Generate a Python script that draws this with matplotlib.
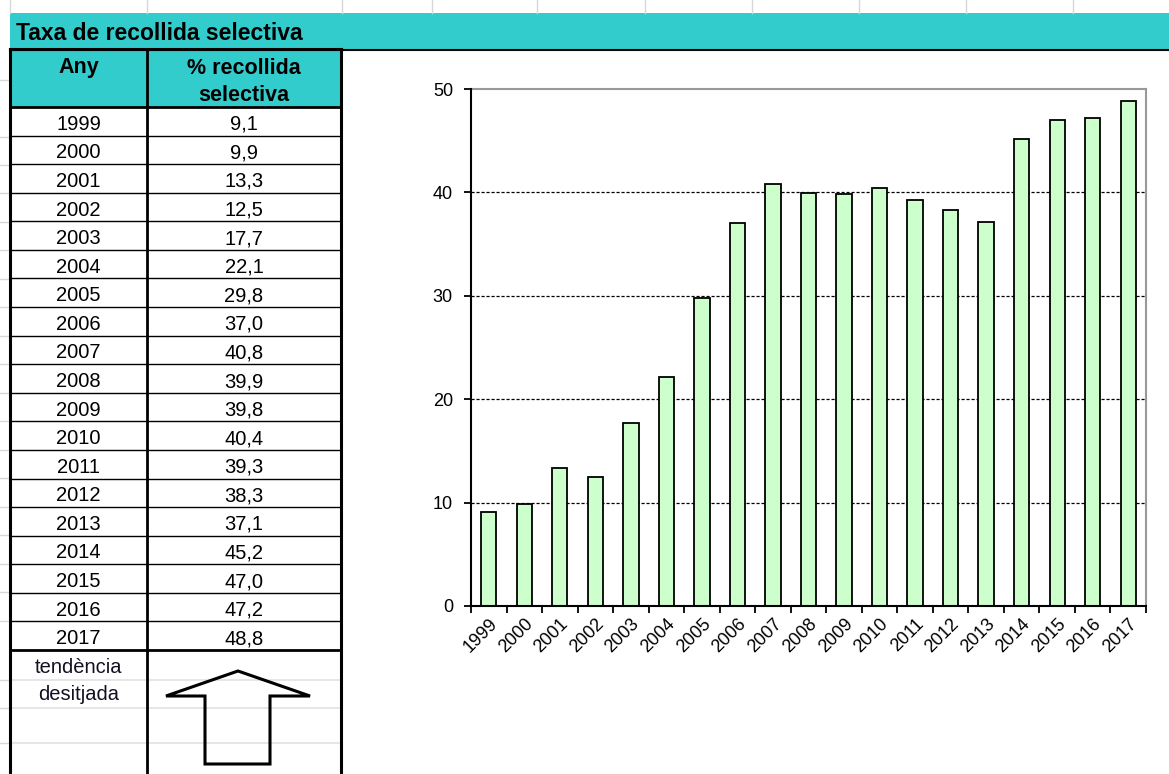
import numpy as np
import matplotlib.pyplot as plt
from matplotlib.patches import Rectangle, Polygon

plt.rcParams['font.family'] = ['Liberation Sans', 'DejaVu Sans']

# data
years = [1999, 2000, 2001, 2002, 2003, 2004, 2005, 2006, 2007, 2008,
         2009, 2010, 2011, 2012, 2013, 2014, 2015, 2016, 2017]
values = [9.1, 9.9, 13.3, 12.5, 17.7, 22.1, 29.8, 37.0, 40.8, 39.9,
          39.8, 40.4, 39.3, 38.3, 37.1, 45.2, 47.0, 47.2, 48.8]
title = 'Taxa de recollida selectiva'
col_headers = ['Any', '% recollida\nselectiva']
trend_label = 'tendència\ndesitjada'

W, H = 1169, 774
teal = '#33CCCC'
fig = plt.figure(figsize=(W / 100, H / 100), dpi=100)

# sheet layer in pixel coords
bg = fig.add_axes([0, 0, 1, 1])
bg.set_xlim(0, W)
bg.set_ylim(H, 0)
bg.axis('off')

# faint spreadsheet gridlines
for x in [10, 147, 342, 432, 537, 645, 752, 859, 966, 1073]:
    bg.plot([x, x], [0, 13], color='#d8d8d8', lw=1)
for y in [80, 137, 165, 193, 222, 250, 279, 307, 336, 364, 393, 421, 450,
          478, 507, 535, 564, 592, 621, 680, 708, 743]:
    bg.plot([0, 10], [y, y], color='#d8d8d8', lw=1)
for y in [680, 708, 743]:
    bg.plot([10, 341], [y, y], color='#e2e2e2', lw=1.2, zorder=1)

# title band
bg.add_patch(Rectangle((10, 13), W - 10, 37, color=teal, lw=0))
bg.plot([10, W], [50, 50], color='black', lw=1.5)
bg.text(16, 34, title, fontsize=16.5, fontweight='bold', va='center', ha='left')

# table
x0, x1, x2 = 10, 147, 341
top, hdr = 49, 107
row_h = (650 - hdr) / len(years)
bg.add_patch(Rectangle((x0, top), x2 - x0, hdr - top, color=teal, lw=0))
bg.text((x0 + x1) / 2, 68, col_headers[0], fontsize=15.5, fontweight='bold',
        ha='center', va='center')
bg.text((x1 + x2) / 2, 82, col_headers[1], fontsize=15.5, fontweight='bold',
        ha='center', va='center', linespacing=1.4)
for i, (yr, v) in enumerate(zip(years, values)):
    yc = hdr + (i + 0.5) * row_h + 3
    bg.text((x0 + x1) / 2, yc, str(yr), fontsize=14.5, ha='center', va='center')
    bg.text((x1 + x2) / 2, yc, f'{v:.1f}'.replace('.', ','), fontsize=14.5,
            ha='center', va='center')
    if i > 0:
        yl = hdr + i * row_h
        bg.plot([x0, x2], [yl, yl], color='black', lw=1)
bot = hdr + len(years) * row_h
bg.plot([x0, x2], [hdr, hdr], color='black', lw=2)
bg.plot([x0, x2], [bot, bot], color='black', lw=2)
bg.plot([x1, x1], [top, H], color='black', lw=2)
bg.plot([x0, x0], [top, H], color='black', lw=2.2)
bg.plot([x2, x2], [top, H], color='black', lw=2.2)
bg.plot([x0, x2], [top, top], color='black', lw=2.2)
bg.text((x0 + x1) / 2, 681, trend_label, fontsize=14.5, ha='center',
        va='center', linespacing=1.55, color='#111122')

# up arrow
arrow = [(238, 671), (310, 696), (270, 696), (270, 764), (205, 764),
         (205, 696), (166, 696)]
bg.add_patch(Polygon(arrow, closed=True, fill=False, ec='black', lw=2.2,
                     joinstyle='miter'))

# chart
ax = fig.add_axes([471 / W, 1 - 606 / H, (1146 - 471) / W, (606 - 89) / H])
pos = np.arange(len(years))
ax.bar(pos, values, width=0.43, color='#CCFFCC', edgecolor='black', lw=1.3,
       zorder=3)
ax.set_xlim(-0.5, len(years) - 0.5)
ax.set_ylim(0, 50)
ax.set_yticks([0, 10, 20, 30, 40, 50])
for g in [10, 20, 30, 40]:
    ax.axhline(g, color='black', lw=0.9, ls=(0, (2.5, 1.5)), zorder=1)
ax.set_xticks(pos)
ax.set_xticklabels([str(y) for y in years], rotation=45, ha='right',
                   rotation_mode='anchor', fontsize=13)
ax.set_xticks(np.arange(-0.5, len(years)), minor=True)
ax.tick_params(axis='x', which='major', length=0, pad=7)
ax.tick_params(axis='x', which='minor', length=5, width=1.3, direction='out')
ax.tick_params(axis='y', length=5, width=1.3, labelsize=13, pad=8)
for s in ['left', 'bottom']:
    ax.spines[s].set_linewidth(1.5)
    ax.spines[s].set_zorder(4)
for s in ['top', 'right']:
    ax.spines[s].set_color('#999999')
    ax.spines[s].set_linewidth(1.5)

fig.savefig('out.png', dpi=100)
